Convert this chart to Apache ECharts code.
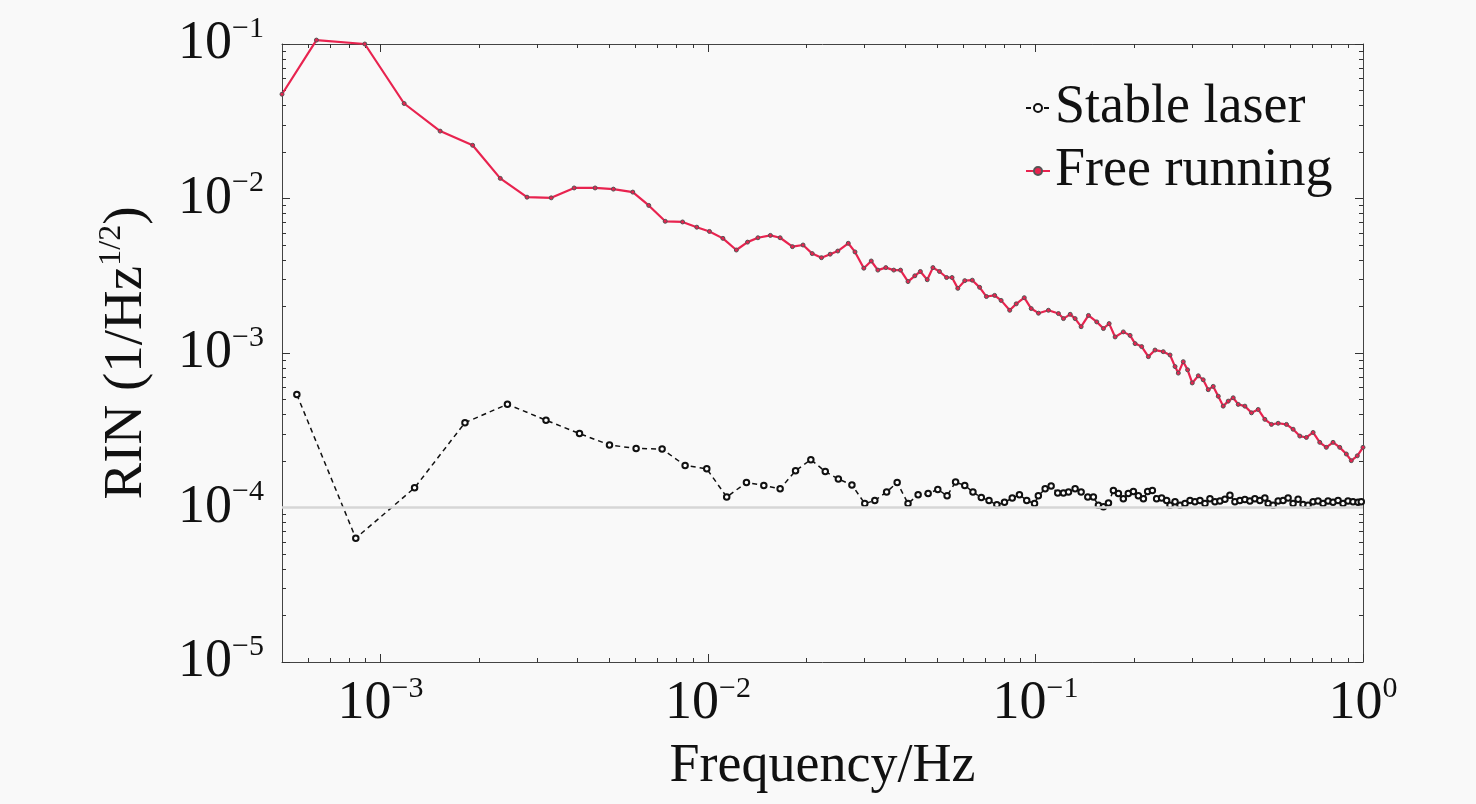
<!DOCTYPE html>
<html>
<head>
<meta charset="utf-8">
<script src="https://cdn.jsdelivr.net/npm/echarts@6/dist/echarts.min.js"></script>
<style>
html,body{margin:0;padding:0;background:#f9f9f9;}
#chart{width:1476px;height:804px;}
</style>
</head>
<body>
<div id="chart"></div>
<script>
// ---- data ----
const stableFreq = [5.55e-4, 8.40e-4, 1.27e-3, 1.81e-3, 2.44e-3, 3.20e-3, 4.05e-3, 5.00e-3, 6.03e-3, 7.24e-3, 8.51e-3, 9.91e-3,
  1.14e-2, 1.31e-2, 1.48e-2, 1.66e-2, 1.85e-2, 2.06e-2, 2.28e-2, 2.50e-2, 2.75e-2, 3.01e-2,
  3.23e-2, 3.51e-2, 3.78e-2, 4.08e-2, 4.38e-2, 4.70e-2, 5.03e-2, 5.37e-2, 5.70e-2, 6.08e-2,
  6.44e-2, 6.83e-2, 7.21e-2, 7.62e-2, 8.04e-2, 8.49e-2, 8.93e-2, 9.40e-2, 9.93e-2, 0.102,
  0.1070, 0.1116, 0.1169, 0.1217, 0.1261, 0.1321, 0.1378, 0.1444, 0.1502, 0.1556,
  0.1612, 0.1670, 0.1729, 0.1791, 0.1854, 0.1920, 0.1990, 0.2061, 0.2135, 0.2200,
  0.2274, 0.2343, 0.2427, 0.2514, 0.2575, 0.2667, 0.2762, 0.2861, 0.2963, 0.3068,
  0.3178, 0.3292, 0.3409, 0.3531, 0.3657, 0.3788, 0.3923, 0.4063, 0.4208, 0.4358,
  0.4514, 0.4675, 0.4842, 0.5015, 0.5133, 0.5316, 0.5507, 0.5703, 0.5906, 0.6117,
  0.6336, 0.6562, 0.6797, 0.7040, 0.7291, 0.7551, 0.7822, 0.8101, 0.8391, 0.8690,
  0.9000, 0.9322, 0.9656, 0.988];
const stableRin = [5.38e-4, 6.33e-5, 1.34e-4, 3.54e-4, 4.66e-4, 3.67e-4, 3.01e-4, 2.54e-4, 2.41e-4, 2.39e-4, 1.87e-4, 1.78e-4,
  1.17e-4, 1.45e-4, 1.39e-4, 1.32e-4, 1.73e-4, 2.04e-4, 1.71e-4, 1.53e-4, 1.40e-4, 1.06e-4,
  1.11e-4, 1.26e-4, 1.45e-4, 1.06e-4, 1.21e-4, 1.23e-4, 1.31e-4, 1.19e-4, 1.46e-4, 1.39e-4,
  1.26e-4, 1.16e-4, 1.11e-4, 1.04e-4, 1.08e-4, 1.15e-4, 1.21e-4, 1.11e-4, 1.06e-4, 1.19e-4,
  1.32e-4, 1.38e-4, 1.24e-4, 1.24e-4, 1.26e-4, 1.32e-4, 1.26e-4, 1.17e-4, 1.17e-4, 1.035e-4,
  1.01e-4, 1.07e-4, 1.29e-4, 1.23e-4, 1.14e-4, 1.23e-4, 1.27e-4, 1.19e-4, 1.14e-4, 1.27e-4,
  1.29e-4, 1.14e-4, 1.15e-4, 1.11e-4, 1.035e-4, 1.09e-4, 1.035e-4, 1.06e-4, 1.11e-4, 1.09e-4,
  1.11e-4, 1.06e-4, 1.14e-4, 1.09e-4, 1.10e-4, 1.13e-4, 1.20e-4, 1.09e-4, 1.11e-4, 1.125e-4,
  1.10e-4, 1.14e-4, 1.11e-4, 1.15e-4, 1.06e-4, 1.035e-4, 1.10e-4, 1.11e-4, 1.15e-4, 1.06e-4,
  1.13e-4, 1.045e-4, 1.035e-4, 1.09e-4, 1.10e-4, 1.06e-4, 1.10e-4, 1.08e-4, 1.11e-4, 1.06e-4,
  1.10e-4, 1.09e-4, 1.08e-4, 1.09e-4];

const freeFreq = [5.0e-4, 6.37e-4, 8.95e-4, 1.18e-3, 1.52e-3, 1.91e-3, 2.32e-3, 2.80e-3, 3.32e-3, 3.90e-3,
  4.52e-3, 5.14e-3, 5.89e-3, 6.59e-3, 7.40e-3, 8.36e-3, 9.24e-3, 1.01e-2,
  1.11e-2, 1.22e-2, 1.32e-2, 1.42e-2, 1.55e-2, 1.66e-2, 1.81e-2, 1.95e-2, 2.08e-2, 2.22e-2,
  2.36e-2, 2.49e-2, 2.68e-2, 2.81e-2, 2.99e-2, 3.15e-2, 3.30e-2, 3.49e-2, 3.69e-2, 3.87e-2,
  4.08e-2, 4.28e-2, 4.45e-2, 4.67e-2, 4.86e-2, 5.09e-2, 5.35e-2, 5.56e-2, 5.79e-2, 6.08e-2,
  6.41e-2, 6.75e-2, 7.08e-2, 7.50e-2, 7.85e-2, 8.34e-2, 8.73e-2, 9.24e-2, 9.70e-2, 0.1021,
  0.1095, 0.1175, 0.1217, 0.1276, 0.1321, 0.1378, 0.1451, 0.1538, 0.1612, 0.1678,
  0.1750, 0.1854, 0.1944, 0.2014, 0.2109, 0.2211, 0.2317, 0.2455, 0.2575, 0.2667,
  0.2729, 0.2826, 0.2913, 0.3010, 0.3141, 0.3251, 0.3368, 0.3489, 0.3614, 0.3742,
  0.3876, 0.4015, 0.4159, 0.4358, 0.4566, 0.4786, 0.5015, 0.5253, 0.5507, 0.5839,
  0.6117, 0.6412, 0.6716, 0.7040, 0.7379, 0.7727, 0.8101, 0.8492, 0.8892, 0.9211,
  0.9607, 1.0];
const freeRin = [4.73e-2, 0.106, 0.100, 4.12e-2, 2.73e-2, 2.21e-2, 1.35e-2, 1.02e-2, 1.01e-2, 1.17e-2,
  1.17e-2, 1.15e-2, 1.10e-2, 9.02e-3, 7.12e-3, 7.05e-3, 6.52e-3, 6.12e-3,
  5.52e-3, 4.64e-3, 5.22e-3, 5.57e-3, 5.77e-3, 5.57e-3, 4.88e-3, 5.00e-3, 4.40e-3, 4.14e-3,
  4.36e-3, 4.57e-3, 5.13e-3, 4.51e-3, 3.54e-3, 3.94e-3, 3.44e-3, 3.57e-3, 3.44e-3, 3.44e-3,
  2.90e-3, 3.16e-3, 3.37e-3, 2.98e-3, 3.57e-3, 3.37e-3, 3.08e-3, 3.08e-3, 2.62e-3, 2.94e-3,
  2.96e-3, 2.66e-3, 2.32e-3, 2.36e-3, 2.19e-3, 1.89e-3, 2.08e-3, 2.28e-3, 1.94e-3, 1.81e-3,
  1.89e-3, 1.80e-3, 1.67e-3, 1.78e-3, 1.67e-3, 1.48e-3, 1.75e-3, 1.59e-3, 1.44e-3, 1.55e-3,
  1.27e-3, 1.37e-3, 1.30e-3, 1.15e-3, 1.10e-3, 9.47e-4, 1.045e-3, 1.02e-3, 9.71e-4, 8.17e-4,
  7.41e-4, 8.79e-4, 7.78e-4, 6.40e-4, 7.12e-4, 6.71e-4, 5.79e-4, 6.08e-4, 5.25e-4, 4.53e-4,
  4.88e-4, 5.13e-4, 4.65e-4, 4.53e-4, 4.10e-4, 4.31e-4, 3.72e-4, 3.45e-4, 3.51e-4, 3.45e-4,
  3.21e-4, 2.90e-4, 2.84e-4, 3.06e-4, 2.64e-4, 2.45e-4, 2.64e-4, 2.45e-4, 2.22e-4, 2.01e-4,
  2.16e-4, 2.45e-4];

const seriesNames = ['Stable laser', 'Free running'];
const xRange = [5e-4, 1];
const yRange = [1e-5, 1e-1];
const xTickExps = [-3, -2, -1, 0];
const yTickExps = [-5, -4, -3, -2, -1];
const refLevel = 1e-4;

// ---- helpers ----
const FONT = '"Liberation Serif","Times New Roman",serif';
const TXT = '#111';
const AX = '#444';
const xExt = [Math.log10(xRange[0]), Math.log10(xRange[1])];
const yExt = [Math.log10(yRange[0]), Math.log10(yRange[1])];
function minorExps(lo, hi) {
  const out = [];
  for (let d = Math.floor(lo); d < Math.ceil(hi); d++) {
    for (let k = 2; k <= 9; k++) {
      const v = d + Math.log10(k);
      if (v > lo + 1e-9 && v < hi - 1e-9) out.push(v);
    }
  }
  return out;
}
function supLabel(v) {
  const e = Math.round(v);
  return '{b|10}{s|' + (e < 0 ? '\u2212' + (-e) : String(e)) + '}';
}
const labelRich = {
  b: { fontSize: 54, lineHeight: 60, fontFamily: FONT, color: TXT },
  s: { fontSize: 30, lineHeight: 30, verticalAlign: 'top', fontFamily: FONT, color: TXT }
};
function tickAxis(dim, pos, values, len, showLine, label, extra) {
  const ext = dim === 'x' ? xExt : yExt;
  return Object.assign({
    type: 'value', position: pos, min: ext[0], max: ext[1],
    axisLine: { show: showLine, onZero: false, lineStyle: { color: AX, width: 1 } },
    axisTick: { show: true, inside: true, length: len, customValues: values, lineStyle: { color: '#333', width: 1 } },
    axisLabel: label ? Object.assign({ customValues: values, formatter: supLabel, rich: labelRich }, label) : { show: false },
    splitLine: { show: false },
    minorTick: { show: false },
    silent: true
  }, extra || {});
}

const xMinor = minorExps(xExt[0], xExt[1]);
const yMinor = minorExps(yExt[0], yExt[1]);

const option = {
  backgroundColor: '#f9f9f9',
  animation: false,
  grid: { left: 282, right: 113, top: 44, bottom: 142 },
  legend: {
    data: seriesNames,
    orient: 'vertical',
    left: 1020, top: 76,
    itemWidth: 24, itemHeight: 10, itemGap: 9,
    textStyle: { fontSize: 54, fontFamily: FONT, color: TXT }
  },
  xAxis: [
    { type: 'log', min: xRange[0], max: xRange[1], show: false, logBase: 10 },
    tickAxis('x', 'bottom', xTickExps, 8, true, { margin: 12 }, {
      name: 'Frequency/Hz', nameLocation: 'middle', nameGap: 78,
      nameTextStyle: { fontSize: 54, fontFamily: FONT, color: TXT }
    }),
    tickAxis('x', 'bottom', xMinor, 4, false, null),
    tickAxis('x', 'top', xTickExps, 8, true, null),
    tickAxis('x', 'top', xMinor, 4, false, null)
  ],
  yAxis: [
    { type: 'log', min: yRange[0], max: yRange[1], show: false, logBase: 10 },
    tickAxis('y', 'left', yTickExps, 8, true, { margin: 18 }, {
      name: '{n|RIN (1/Hz}{s|1/2}{n|)}', nameLocation: 'middle', nameGap: 124, nameRotate: 90,
      nameTextStyle: {
        rich: {
          n: { fontSize: 55, lineHeight: 62, fontFamily: FONT, color: TXT },
          s: { fontSize: 32, lineHeight: 32, verticalAlign: 'top', fontFamily: FONT, color: TXT }
        }
      }
    }),
    tickAxis('y', 'left', yMinor, 4, false, null),
    tickAxis('y', 'right', yTickExps, 8, true, null),
    tickAxis('y', 'right', yMinor, 4, false, null)
  ],
  series: [
    {
      name: seriesNames[0], type: 'line', xAxisIndex: 0, yAxisIndex: 0,
      data: stableFreq.map((f, i) => [f, stableRin[i]]),
      symbol: 'emptyCircle', symbolSize: 5.5,
      lineStyle: { color: '#111', width: 1.5, type: [5, 4] },
      itemStyle: { color: '#111', borderColor: '#111', borderWidth: 1.5 },
      z: 3,
      markLine: {
        silent: true, symbol: 'none', label: { show: false },
        lineStyle: { color: '#d6d6d6', width: 2.5, type: 'solid' },
        data: [[{ coord: [xRange[0], refLevel] }, { coord: [xRange[1], refLevel] }]]
      }
    },
    {
      name: seriesNames[1], type: 'line', xAxisIndex: 0, yAxisIndex: 0,
      data: freeFreq.map((f, i) => [f, freeRin[i]]),
      symbol: 'circle', symbolSize: 4, clip: false,
      lineStyle: { color: '#e8234f', width: 2.2 },
      itemStyle: { color: '#e8234f', borderColor: '#555', borderWidth: 1 },
      z: 4
    }
  ]
};
const chart = echarts.init(document.getElementById('chart'));
chart.setOption(option);
</script>
</body>
</html>
